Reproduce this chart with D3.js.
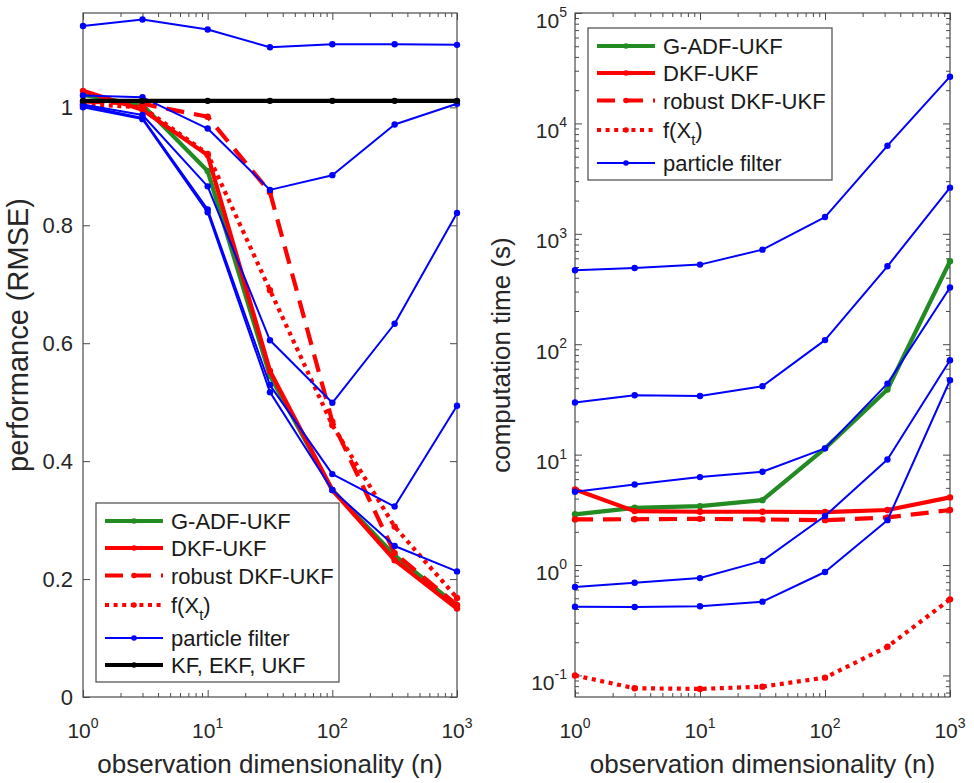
<!DOCTYPE html>
<html>
<head>
<meta charset="utf-8">
<script src="https://cdn.jsdelivr.net/npm/d3@7"></script>
<style>
  body { margin: 0; background: #fff; }
  svg { display: block; font-family: "Liberation Sans", Arial, Helvetica, sans-serif; }
</style>
</head>
<body>
<svg id="fig" width="974" height="783"></svg>
<script>
// Observation dimensionality n (log-spaced runs)
const dims = [1, 3, 10, 31.6, 100, 316, 1000];

// Filtering performance (RMSE) per method
const rmseGADF   = [1.021, 1.004, 0.892, 0.545, 0.351, 0.240, 0.155];
const rmseDKF    = [1.028, 0.996, 0.919, 0.553, 0.351, 0.232, 0.150];
const rmseRobust = [1.010, 1.006, 0.984, 0.856, 0.467, 0.244, 0.156];
const rmseFX     = [1.006, 1.000, 0.921, 0.690, 0.461, 0.289, 0.168];
const rmsePF = [
  [1.138, 1.149, 1.132, 1.102, 1.107, 1.107, 1.106],
  [1.020, 1.017, 0.964, 0.860, 0.885, 0.971, 1.006],
  [1.005, 0.987, 0.866, 0.605, 0.499, 0.633, 0.821],
  [1.003, 0.982, 0.827, 0.529, 0.378, 0.323, 0.494],
  [1.000, 0.980, 0.822, 0.517, 0.351, 0.256, 0.213]
];
const rmseKF     = [1.011, 1.011, 1.011, 1.011, 1.011, 1.011, 1.011];

// Computation time (s) per method
const timeGADF   = [2.88, 3.30, 3.42, 3.87, 11.4, 38.9, 564];
const timeDKF    = [4.84, 3.08, 3.04, 3.04, 3.02, 3.15, 4.10];
const timeRobust = [2.59, 2.60, 2.62, 2.59, 2.55, 2.70, 3.15];
const timeFX     = [0.100, 0.0766, 0.0755, 0.0792, 0.0955, 0.182, 0.489];
const timePF = [
  [468, 490, 526, 719, 1419, 6280, 26500],
  [29.7, 34.5, 34.0, 41.7, 109, 508, 2620],
  [4.61, 5.37, 6.26, 7.00, 11.4, 44.0, 326],
  [0.632, 0.692, 0.762, 1.09, 2.78, 9.04, 71.6],
  [0.419, 0.417, 0.423, 0.466, 0.865, 2.55, 47.2]
];

// Tick values and labels
const xTickExps = [0, 1, 2, 3];
const rmseTicks = [0, 0.2, 0.4, 0.6, 0.8, 1];
const rmseTickLabels = ["0", "0.2", "0.4", "0.6", "0.8", "1"];
const timeTickExps = [-1, 0, 1, 2, 3, 4, 5];

// Series names
const names = {
  gadf: "G-ADF-UKF",
  dkf: "DKF-UKF",
  robust: "robust DKF-UKF",
  fx: "f(X_t)",
  pf: "particle filter",
  kf: "KF, EKF, UKF"
};

// Line styles
const style = {
  gadf:   { color: "#228B22", width: 4.2, dash: null },
  dkf:    { color: "#FF0000", width: 4.2, dash: null },
  robust: { color: "#FF0000", width: 4.2, dash: "18 10" },
  fx:     { color: "#FF0000", width: 4.2, dash: "4 4.6" },
  pf:     { color: "#0000FF", width: 2,   dash: null },
  kf:     { color: "#000000", width: 4.2, dash: null }
};

const TXT = "#262626";
const AX = "#4a4a4a";
const svg = d3.select("#fig");

function panel(box, yScale, yIsLog) {
  const g = svg.append("g");
  const x = d3.scaleLog().domain([1, 1000]).range([box.x0, box.x1]);

  const minorX = [];
  for (let e = 0; e < 3; e++) for (let k = 2; k <= 9; k++) minorX.push(k * Math.pow(10, e));
  const majorX = xTickExps.map(e => Math.pow(10, e));

  const tickAxis = (gen, pos, vals, len) => {
    const a = g.append("g").attr("transform", pos)
      .call(gen.tickValues(vals).tickSize(-len).tickFormat(""));
    a.select(".domain").remove();
    a.selectAll(".tick line").attr("stroke", AX).attr("stroke-width", 1);
  };

  // x ticks, bottom and top, pointing inward
  tickAxis(d3.axisBottom(x), `translate(0,${box.y1})`, majorX, 7);
  tickAxis(d3.axisBottom(x), `translate(0,${box.y1})`, minorX, 4);
  tickAxis(d3.axisTop(x), `translate(0,${box.y0})`, majorX, 7);
  tickAxis(d3.axisTop(x), `translate(0,${box.y0})`, minorX, 4);

  // y ticks, left and right
  let majorY, minorY = [];
  if (yIsLog) {
    majorY = timeTickExps.map(e => Math.pow(10, e));
    const [lo, hi] = yScale.domain();
    for (let e = -2; e < 5; e++) for (let k = 2; k <= 9; k++) {
      const v = k * Math.pow(10, e);
      if (v >= lo && v <= hi) minorY.push(v);
    }
  } else {
    majorY = rmseTicks;
  }
  tickAxis(d3.axisLeft(yScale), `translate(${box.x0},0)`, majorY, 7);
  tickAxis(d3.axisRight(yScale), `translate(${box.x1},0)`, majorY, 7);
  if (minorY.length) {
    tickAxis(d3.axisLeft(yScale), `translate(${box.x0},0)`, minorY, 4);
    tickAxis(d3.axisRight(yScale), `translate(${box.x1},0)`, minorY, 4);
  }

  // x tick labels 10^e
  xTickExps.forEach(e => {
    const t = g.append("text")
      .attr("x", x(Math.pow(10, e))).attr("y", 738)
      .attr("text-anchor", "middle").attr("fill", TXT).attr("font-size", 21);
    t.append("tspan").text("10");
    t.append("tspan").attr("font-size", 14).attr("dy", -10).text(String(e));
  });

  // y tick labels
  if (yIsLog) {
    timeTickExps.forEach(e => {
      const yy = yScale(Math.pow(10, e));
      const t = g.append("text")
        .attr("x", box.x0 - 8).attr("y", yy + 14.5)
        .attr("text-anchor", "end").attr("fill", TXT).attr("font-size", 21);
      t.append("tspan").text("10");
      t.append("tspan").attr("font-size", 14).attr("dy", -10.5).text(String(e));
    });
  } else {
    rmseTicks.forEach((v, i) => {
      g.append("text")
        .attr("x", box.x0 - 10).attr("y", yScale(v) + 7.5)
        .attr("text-anchor", "end").attr("fill", TXT).attr("font-size", 22)
        .text(rmseTickLabels[i]);
    });
  }

  // box
  g.append("rect")
    .attr("x", box.x0).attr("y", box.y0)
    .attr("width", box.x1 - box.x0).attr("height", box.y1 - box.y0)
    .attr("fill", "none").attr("stroke", AX).attr("stroke-width", 1.2);

  // x label
  g.append("text")
    .attr("x", (box.x0 + box.x1) / 2).attr("y", 773)
    .attr("text-anchor", "middle").attr("fill", TXT).attr("font-size", 26)
    .text("observation dimensionality (n)");

  return { g, x };
}

function drawSeries(g, x, y, values, key) {
  const s = style[key];
  const line = d3.line().x((d, i) => x(dims[i])).y(d => y(d));
  g.append("path")
    .attr("d", line(values))
    .attr("fill", "none")
    .attr("stroke", s.color)
    .attr("stroke-width", s.width)
    .attr("stroke-linejoin", "round")
    .attr("stroke-dasharray", s.dash);
  g.selectAll(null).data(values).enter().append("circle")
    .attr("cx", (d, i) => x(dims[i]))
    .attr("cy", d => y(d))
    .attr("r", 3.2)
    .attr("fill", s.color);
}

function legend(box, keys) {
  const offs = [18, 45, 72.5, 102, 135, 162];
  const h = offs[keys.length - 1] + 17;
  const g = svg.append("g");
  g.append("rect")
    .attr("x", box.x).attr("y", box.y)
    .attr("width", box.w).attr("height", h)
    .attr("fill", "#fff").attr("stroke", AX).attr("stroke-width", 1.2);
  keys.forEach((k, i) => {
    const s = style[k];
    const yy = box.y + offs[i];
    g.append("line")
      .attr("x1", box.x + 9).attr("x2", box.x + 67)
      .attr("y1", yy).attr("y2", yy)
      .attr("stroke", s.color).attr("stroke-width", s.width)
      .attr("stroke-dasharray", s.dash);
    g.append("circle")
      .attr("cx", box.x + 38).attr("cy", yy).attr("r", 2.8).attr("fill", s.color);
    const t = g.append("text")
      .attr("x", box.x + 75).attr("y", yy + 8)
      .attr("fill", "#1a1a1a").attr("font-size", 22);
    if (k === "fx") {
      t.append("tspan").text("f(X");
      t.append("tspan").attr("font-size", 15).attr("dy", 7).text("t");
      t.append("tspan").attr("font-size", 22).attr("dy", -7).text(")");
    } else {
      t.text(names[k]);
    }
  });
}

// Left panel: RMSE
const boxL = { x0: 83, x1: 457, y0: 13, y1: 697 };
const yL = d3.scaleLinear().domain([0, 1.16]).range([boxL.y1, boxL.y0]);
const L = panel(boxL, yL, false);
const plotL = svg.append("g");
drawSeries(plotL, L.x, yL, rmseGADF, "gadf");
drawSeries(plotL, L.x, yL, rmseDKF, "dkf");
drawSeries(plotL, L.x, yL, rmseRobust, "robust");
drawSeries(plotL, L.x, yL, rmseFX, "fx");
rmsePF.forEach(v => drawSeries(plotL, L.x, yL, v, "pf"));
drawSeries(plotL, L.x, yL, rmseKF, "kf");
svg.append("text")
  .attr("transform", "translate(28,335) rotate(-90)")
  .attr("text-anchor", "middle").attr("fill", TXT).attr("font-size", 29)
  .text("performance (RMSE)");
legend({ x: 96, y: 503, w: 243 }, ["gadf", "dkf", "robust", "fx", "pf", "kf"]);

// Right panel: computation time
const boxR = { x0: 575, x1: 950, y0: 13, y1: 697 };
const yR = d3.scaleLog().domain([0.0638, 1e5]).range([boxR.y1, boxR.y0]);
const R = panel(boxR, yR, true);
const plotR = svg.append("g");
drawSeries(plotR, R.x, yR, timeGADF, "gadf");
drawSeries(plotR, R.x, yR, timeDKF, "dkf");
drawSeries(plotR, R.x, yR, timeRobust, "robust");
drawSeries(plotR, R.x, yR, timeFX, "fx");
timePF.forEach(v => drawSeries(plotR, R.x, yR, v, "pf"));
svg.append("text")
  .attr("transform", `translate(510,${(boxR.y0 + boxR.y1) / 2}) rotate(-90)`)
  .attr("text-anchor", "middle").attr("fill", TXT).attr("font-size", 26)
  .text("computation time (s)");
legend({ x: 588, y: 28, w: 244 }, ["gadf", "dkf", "robust", "fx", "pf"]);
</script>
</body>
</html>
